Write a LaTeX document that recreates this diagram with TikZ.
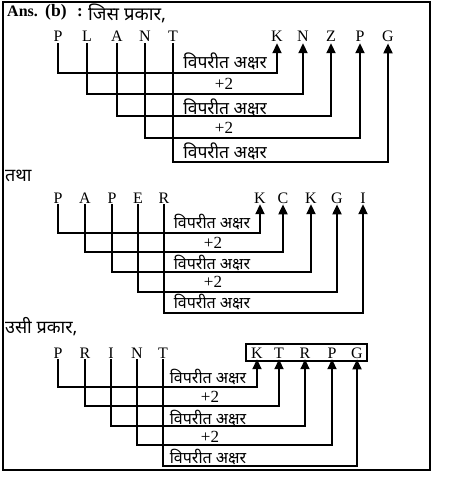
\documentclass[tikz,border=0pt]{standalone}
\usepackage{fontspec}
\setmainfont{Liberation Serif}
\newfontfamily\hin[Script=Devanagari]{Noto Sans}
\usetikzlibrary{arrows.meta,fit}
\begin{document}
\begin{tikzpicture}[x=1pt,y=-1pt,
  let/.style={inner sep=1pt,anchor=base,font=\fontsize{16}{16}\selectfont},
  lbl/.style={inner sep=0pt,font=\hin\fontsize{17.5}{18}\selectfont},
  lblb/.style={inner sep=0pt,font=\hin\fontsize{16}{17}\selectfont},
  plus/.style={inner sep=0pt,font=\fontsize{17}{17}\selectfont},
  head/.style={inner sep=0pt,anchor=base west},
  hh/.style={inner sep=0pt,anchor=west,font=\hin\fontsize{18}{19}\selectfont},
  conn/.style={line width=1.9pt,-{Triangle[length=10pt,width=9pt]}},
  frame/.style={line width=1.2pt}]
\useasboundingbox (0,0) rectangle (448,486);
\draw[frame] (3,2) rectangle (430,470);
% ---------------- section 1 ----------------
\node[head,font=\fontsize{16}{16}\selectfont\bfseries] (ans) at (7,17) {Ans.};
\node[head,font=\fontsize{17.5}{18}\selectfont\bfseries] (optb) at (45,17) {(b)};
\node[head,font=\fontsize{17}{17}\selectfont\bfseries] (colon) at (77,17) {:};
\node[hh,font=\hin\fontsize{18.5}{19}\selectfont] (h1) at (88,13) {जिस प्रकार,};
\foreach \n/\x/\t in {a1/58/P,a2/87/L,a3/117/A,a4/145/N,a5/173/T,
                      b1/277/K,b2/303/N,b3/331/Z,b4/360/P,b5/388/G}
  \node[let] (\n) at (\x,42) {\t};
\foreach \i/\y in {1/73,2/94,3/116,4/138,5/162}
  \coordinate (ya\i) at (0,\y);
\foreach \i in {1,...,5}
  \draw[conn] (a\i.south) -- (a\i.south |- ya\i) -| (b\i.south);
\node[lbl] (la1) at (225,61) {विपरीत अक्षर};
\node[plus] (la2) at (224,84) {+2};
\node[lbl] (la3) at (225,107) {विपरीत अक्षर};
\node[plus] (la4) at (224,128) {+2};
\node[lbl] (la5) at (225,151) {विपरीत अक्षर};
% ---------------- section 2 ----------------
\node[hh] (h2) at (5,176) {तथा};
\foreach \n/\x/\t in {c1/58/P,c2/85/A,c3/112/P,c4/138/E,c5/164/R,
                      d1/260/K,d2/283/C,d3/311/K,d4/337/G,d5/363/I}
  \node[let] (\n) at (\x,203) {\t};
\foreach \i/\y in {1/233,2/252,3/272,4/292,5/313}
  \coordinate (yc\i) at (0,\y);
\foreach \i in {1,...,5}
  \draw[conn] (c\i.south) -- (c\i.south |- yc\i) -| (d\i.south);
\node[lblb] (lc1) at (212,222) {विपरीत अक्षर};
\node[plus] (lc2) at (213,243) {+2};
\node[lblb] (lc3) at (212,263) {विपरीत अक्षर};
\node[plus] (lc4) at (213,282) {+2};
\node[lblb] (lc5) at (212,302) {विपरीत अक्षर};
% ---------------- section 3 ----------------
\node[hh] (h3) at (5,327) {उसी प्रकार,};
\foreach \n/\x/\t in {e1/58/P,e2/85/R,e3/111/I,e4/137/N,e5/163/T,
                      f1/257/K,f2/279/T,f3/305/R,f4/332/P,f5/357/G}
  \node[let] (\n) at (\x,358) {\t};
\node[draw,line width=1.2pt,inner xsep=0pt,inner ysep=0pt,
      fit={(246,344) (367,361)}] (box) {};
\foreach \i/\y in {1/387,2/406,3/426,4/445,5/466}
  \coordinate (ye\i) at (0,\y);
\foreach \i in {1,...,5}
  \draw[conn] (e\i.south) -- (e\i.south |- ye\i) -| (f\i.south);
\node[lblb] (le1) at (208,377) {विपरीत अक्षर};
\node[plus] (le2) at (210,397) {+2};
\node[lblb] (le3) at (208,418) {विपरीत अक्षर};
\node[plus] (le4) at (210,437) {+2};
\node[lblb] (le5) at (208,457) {विपरीत अक्षर};
\end{tikzpicture}
\end{document}
